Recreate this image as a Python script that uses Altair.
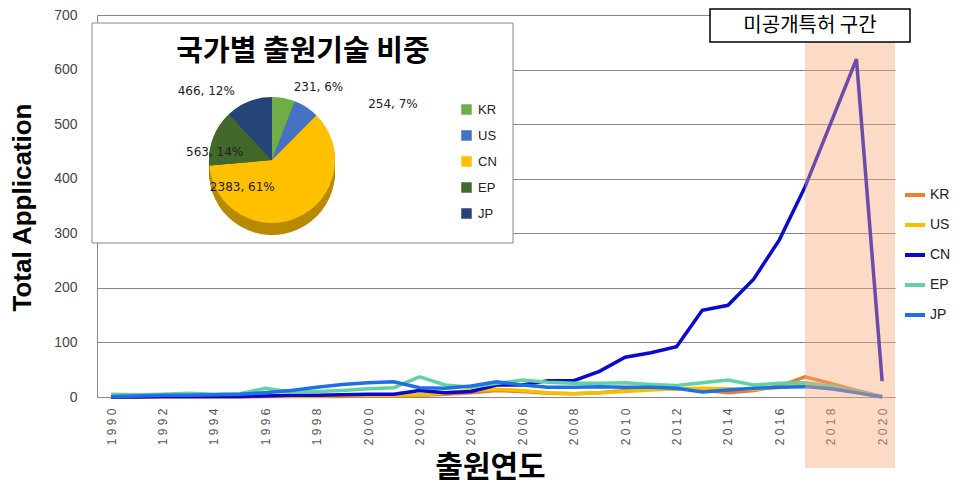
import altair as alt
import pandas as pd

# ---------------- data ----------------
years = list(range(1990, 2021))
countries = ["KR", "US", "CN", "EP", "JP"]
kr = [0, 0, 0, 0, 0, 0, 1, 1, 1, 1, 2, 2, 3, 5, 8, 12, 10, 7, 6, 8, 12, 14, 15, 13, 8, 12, 20, 37, 25, 12, 1]
us = [1, 1, 1, 2, 1, 1, 2, 2, 2, 3, 3, 3, 4, 8, 12, 14, 12, 8, 6, 8, 10, 13, 15, 16, 15, 14, 18, 22, 20, 9, 1]
cn = [0, 0, 1, 1, 1, 1, 2, 3, 3, 4, 5, 5, 12, 8, 10, 22, 22, 30, 30, 47, 73, 81, 92, 159, 168, 216, 288, 385, 502, 619, 29]
ep = [5, 4, 5, 7, 5, 6, 16, 9, 10, 12, 15, 17, 37, 22, 18, 25, 31, 27, 25, 25, 26, 23, 21, 26, 31, 22, 25, 26, 20, 10, 1]
jp = [1, 2, 3, 3, 4, 5, 8, 12, 18, 23, 26, 28, 17, 16, 20, 28, 22, 18, 18, 19, 18, 18, 16, 9, 13, 16, 18, 19, 15, 8, 0]
line_colors = ["#ED7D31", "#F5C000", "#0A0ACF", "#62D2A2", "#1F6FE5"]

pie_countries = ["KR", "US", "CN", "EP", "JP"]
pie_values = [231, 254, 2383, 563, 466]
pie_colors = ["#70AD47", "#4472C4", "#FFC000", "#43682B", "#264478"]
pie_side_colors = ["#4C7A30", "#2E4F8C", "#B98A00", "#2A4419", "#18294A"]
pie_title = "국가별 출원기술 비중"

unpublished = [2017, 2020]
unpublished_text = "미공개특허 구간"

# ---------------- tables ----------------
series = {"KR": kr, "US": us, "CN": cn, "EP": ep, "JP": jp}
rows = []
for c in countries:
    for y, v in zip(years, series[c]):
        rows.append({"country": c, "year": y, "value": v})
df_lines = pd.DataFrame(rows)

total = sum(pie_values)
df_pie = pd.DataFrame({
    "country": pie_countries,
    "value": pie_values,
    "idx": list(range(len(pie_countries))),
    "label": [f"{v}, {round(v / total * 100)}%" for v in pie_values],
})

W, H = 798, 382
xscale = alt.Scale(domain=[1989.45, 2020.5], nice=False, zero=False)

label_expr = ("substring(datum.label,0,1)+' '+substring(datum.label,1,2)+' '+"
              "substring(datum.label,2,3)+' '+substring(datum.label,3,4)")

lines = alt.Chart(df_lines).mark_line(interpolate="linear", strokeWidth=3.5).encode(
    x=alt.X("year:Q", scale=xscale,
            axis=alt.Axis(values=years[::2], format="d", labelAngle=-90, labelExpr=label_expr,
                          labelFont="Liberation Sans", labelFontSize=12, labelColor="#555",
                          labelPadding=11, ticks=False, grid=False, domainColor="#888",
                          title="출원연도", titleFont="Noto Sans CJK KR", titleFontSize=30,
                          titleFontWeight="bold", titleColor="#000", titleX=393, titleY=70,
                          titleBaseline="middle", titleAlign="center")),
    y=alt.Y("value:Q", scale=alt.Scale(domain=[0, 700], nice=False),
            axis=alt.Axis(values=list(range(0, 701, 100)), grid=True, gridColor="#888",
                          gridWidth=1, ticks=False, domainColor="#888",
                          labelFont="Liberation Sans", labelFontSize=14, labelColor="#444",
                          labelPadding=20,
                          title="Total Application", titleFont="Liberation Sans",
                          titleFontSize=26, titleFontWeight="bold", titleColor="#000",
                          titleAngle=270, titleX=-75, titleY=192, titleBaseline="middle",
                          titleAlign="center")),
    color=alt.Color("country:N", scale=alt.Scale(domain=countries, range=line_colors),
                    legend=alt.Legend(orient="none", legendX=806, legendY=168, title=None,
                                      symbolType="stroke", symbolStrokeWidth=4, symbolSize=400,
                                      labelFont="Liberation Sans", labelFontSize=14,
                                      labelColor="#222", rowPadding=10, labelOffset=3)),
    detail="country:N",
)

pink = alt.Chart(pd.DataFrame({"year": [unpublished[0]], "year2": [unpublished[1] + 0.5]})).mark_rect(
    color="#F5A878", opacity=0.42).encode(
    x=alt.X("year:Q", scale=xscale), x2="year2:Q",
    y=alt.value(27), y2=alt.value(453))

note_df = pd.DataFrame({"t": [unpublished_text]})
note_box = alt.Chart(note_df).mark_rect(fill="white", stroke="black", strokeWidth=1.5).encode(
    x=alt.value(613), x2=alt.value(813), y=alt.value(-6), y2=alt.value(27))
note_text = alt.Chart(note_df).mark_text(font="Noto Sans CJK KR", fontSize=20, color="#000",
                                         align="center", baseline="middle").encode(
    x=alt.value(713), y=alt.value(11), text="t:N")

inset_box = alt.Chart(note_df).mark_rect(fill="white", stroke="#888", strokeWidth=1).encode(
    x=alt.value(-5), x2=alt.value(416), y=alt.value(8), y2=alt.value(228))

title_df = pd.DataFrame({"t": [pie_title]})
inset_title = alt.Chart(title_df).mark_text(font="Noto Sans CJK KR", fontSize=29, fontWeight="bold",
                                            color="#000", align="center", baseline="middle").encode(
    x=alt.value(206), y=alt.value(37), text="t:N")

CX, CY, R = 175, 145, 63
side_layers = []
for k in range(12, 0, -1):
    side_layers.append(
        alt.Chart(df_pie).mark_arc(radius=R).encode(
            theta=alt.Theta("value:Q", stack=True),
            order=alt.Order("idx:Q"),
            color=alt.Color("country:N", scale=alt.Scale(domain=pie_countries, range=pie_side_colors),
                            legend=None),
            x=alt.value(CX), y=alt.value(CY + k)))

pie_top = alt.Chart(df_pie).mark_arc(radius=R).encode(
    theta=alt.Theta("value:Q", stack=True),
    order=alt.Order("idx:Q"),
    color=alt.Color("country:N", scale=alt.Scale(domain=pie_countries, range=pie_colors),
                    legend=alt.Legend(orient="none", legendX=363, legendY=88, title=None,
                                      symbolType="square", symbolSize=110, symbolStrokeWidth=0,
                                      labelFont="Liberation Sans", labelFontSize=13,
                                      labelColor="#222", rowPadding=12, labelOffset=5)),
    x=alt.value(CX), y=alt.value(CY))


def pie_label(country, radius, align, dx, dy):
    return alt.Chart(df_pie).transform_calculate(
        t=f"datum.country == '{country}' ? datum.label : ''"
    ).mark_text(radius=radius, align=align, baseline="middle", dx=dx, dy=dy,
                font="DejaVu Sans", fontSize=12, color="#222").encode(
        theta=alt.Theta("value:Q", stack=True),
        order=alt.Order("idx:Q"),
        text="t:N",
        x=alt.value(CX), y=alt.value(CY))


labels = [
    pie_label("KR", 74, "left", 8, 0),
    pie_label("US", 70, "left", 58, 3),
    pie_label("JP", 74, "right", -10, 0),
    pie_label("EP", 40, "center", -20, 6),
    pie_label("CN", 36, "center", -45, -6),
]

chart = alt.layer(
    lines, pink, inset_box, *side_layers, pie_top, *labels, inset_title, note_box, note_text
).resolve_scale(color="independent").properties(
    width=W, height=H,
    autosize=alt.AutoSizeParams(type="none"),
    padding={"left": 89, "top": 7, "right": 57, "bottom": 88},
).configure_view(stroke=None)

chart.save("out.html", embed_options={"renderer": "svg", "actions": False})
